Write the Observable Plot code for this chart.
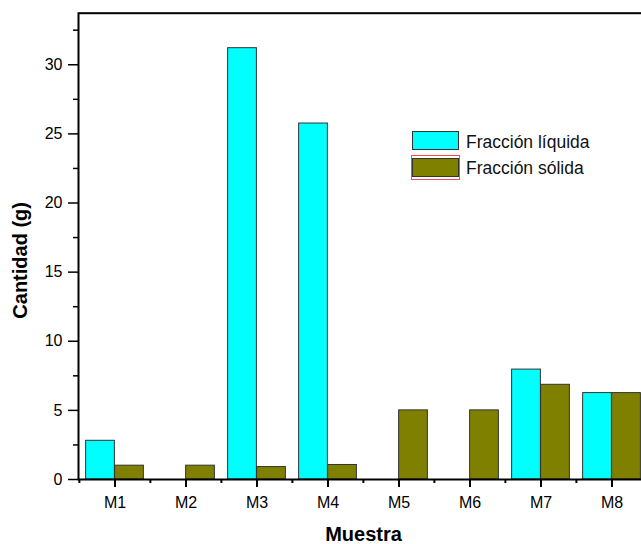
<!DOCTYPE html>
<html>
<head>
<meta charset="utf-8">
<script src="https://cdn.jsdelivr.net/npm/d3@7"></script>
<script src="https://cdn.jsdelivr.net/npm/@observablehq/plot@0.6"></script>
<style>
  html, body { margin: 0; padding: 0; background: #fff; overflow: hidden; }
  #chart { width: 641px; height: 544px; overflow: hidden; }
  #chart svg { display: block; max-width: none !important; }
</style>
</head>
<body>
<div id="chart"></div>
<script>
// Muestras and the mass (g) of each fraction
const categories = ["M1", "M2", "M3", "M4", "M5", "M6", "M7", "M8"];
const liquida = [2.8, 0, 31.2, 25.75, 0, 0, 7.95, 6.25];
const solida = [1.0, 1.0, 0.9, 1.05, 5.0, 5.0, 6.85, 6.25];
const seriesNames = ["Fracción líquida", "Fracción sólida"];
const seriesColors = ["#00ffff", "#808000"];
const yMajorTicks = [0, 5, 10, 15, 20, 25, 30];
const yMinorTicks = [2.5, 7.5, 12.5, 17.5, 22.5, 27.5, 32.5];
const yMax = 33.73;

// Long table: one row per (muestra, fracción)
const rows = categories.flatMap((cat, i) => [
  {cat, serie: seriesNames[0], v: liquida[i]},
  {cat, serie: seriesNames[1], v: solida[i]}
]);

// Layout
const W = 649, H = 544;
const mL = 78, mR = 1, mT = 12.7, mB = 65;
const band = (W - mL - mR) / categories.length;
const barW = band * 0.407;
const side = (band - 2 * barW) / 2;
const font = "'Liberation Sans', Arial, sans-serif";

const svg = Plot.plot({
  width: W,
  height: H,
  marginLeft: mL,
  marginRight: mR,
  marginTop: mT,
  marginBottom: mB,
  style: {fontFamily: font, fontSize: "16px", color: "#000", background: "#fff", overflow: "visible", maxWidth: "none"},
  x: {domain: categories, padding: 0, axis: null, label: null},
  y: {domain: [0, yMax], axis: null, label: null},
  marks: [
    Plot.barY(rows.filter(d => d.serie === seriesNames[0] && d.v > 0), {
      x: "cat", y: "v", fill: seriesColors[0], stroke: "#333", strokeWidth: 1,
      insetLeft: side, insetRight: side + barW
    }),
    Plot.barY(rows.filter(d => d.serie === seriesNames[1] && d.v > 0), {
      x: "cat", y: "v", fill: seriesColors[1], stroke: "#333", strokeWidth: 1,
      insetLeft: side + barW, insetRight: side
    }),
    Plot.frame({stroke: "#000", strokeWidth: 2}),
    // y axis: major and minor ticks, pointing outward
    Plot.axisY(yMajorTicks, {tickSize: 10, tickPadding: 6, fontSize: 16, strokeWidth: 1.5, label: null}),
    Plot.axisY(yMinorTicks, {tickSize: 5, tickFormat: () => "", strokeWidth: 1.5, label: null}),
    // x axis: ticks at each muestra, short ticks at group boundaries
    Plot.axisX(categories, {tickSize: 8, tickPadding: 9, fontSize: 16, strokeWidth: 2, label: null}),
    Plot.axisX(categories, {tickSize: 4, dx: -band / 2, tickFormat: () => "", strokeWidth: 2, label: null}),
    // axis titles
    Plot.text(["Cantidad (g)"], {
      text: d => d, frameAnchor: "left", rotate: -90, dx: -57.7, dy: 14,
      textAnchor: "middle", lineAnchor: "middle",
      fontSize: 20, fontWeight: "bold", fill: "#000"
    }),
    Plot.text(["Muestra"], {
      text: d => d, frameAnchor: "bottom", dy: 54.6,
      textAnchor: "middle", lineAnchor: "middle",
      fontSize: 20, fontWeight: "bold", fill: "#000"
    })
  ]
});
svg.style.maxWidth = "none";
svg.style.width = W + "px";
svg.style.height = H + "px";

// Legend inside the plot area
const lg = d3.select(svg).append("g")
  .attr("font-family", font)
  .attr("font-size", "17.5px")
  .attr("text-anchor", "start");
seriesNames.forEach((name, i) => {
  const y0 = 131.5 + i * 27;
  if (i === 1) {
    lg.append("rect")
      .attr("x", 411.5).attr("y", y0 - 3).attr("width", 48).attr("height", 24)
      .attr("fill", "none").attr("stroke", "#ff4a4a").attr("stroke-width", 1);
  }
  lg.append("rect")
    .attr("x", 412.5).attr("y", y0).attr("width", 46).attr("height", 18)
    .attr("fill", seriesColors[i]).attr("stroke", "#333").attr("stroke-width", 1);
  lg.append("text")
    .attr("x", 466).attr("y", 147.7 + i * 26)
    .attr("fill", "#111")
    .text(name);
});

document.getElementById("chart").appendChild(svg);
</script>
</body>
</html>
